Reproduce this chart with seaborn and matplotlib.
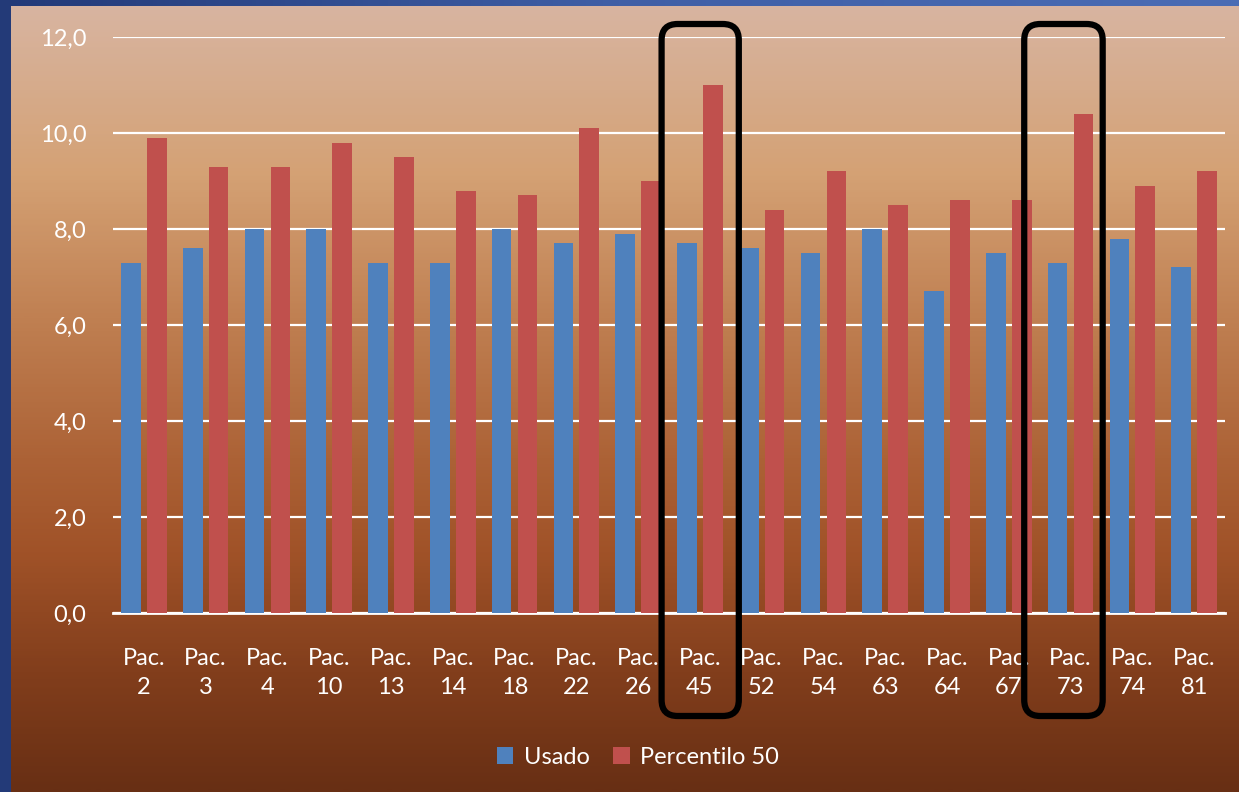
import numpy as np
import pandas as pd
import matplotlib
matplotlib.use("Agg")
import matplotlib.pyplot as plt
from matplotlib.colors import LinearSegmentedColormap
from matplotlib.patches import FancyBboxPatch, Rectangle
import seaborn as sns

# Data
pacientes = ["2", "3", "4", "10", "13", "14", "18", "22", "26", "45",
             "52", "54", "63", "64", "67", "73", "74", "81"]
usado = [7.3, 7.6, 8.0, 8.0, 7.3, 7.3, 8.0, 7.7, 7.9, 7.7,
         7.6, 7.5, 8.0, 6.7, 7.5, 7.3, 7.8, 7.2]
percentilo_50 = [9.9, 9.3, 9.3, 9.8, 9.5, 8.8, 8.7, 10.1, 9.0, 11.0,
                 8.4, 9.2, 8.5, 8.6, 8.6, 10.4, 8.9, 9.2]
series_names = ["Usado", "Percentilo 50"]
resaltados = ["45", "73"]
y_ticks = [0, 2, 4, 6, 8, 10, 12]

labels = ["Pac.\n" + p for p in pacientes]
df = pd.DataFrame({
    "Paciente": labels * 2,
    "Valor": usado + percentilo_50,
    "Serie": [series_names[0]] * len(labels) + [series_names[1]] * len(labels),
})

sns.set_theme(style="white")
plt.rcParams["font.family"] = ["Lato", "DejaVu Sans"]

W, H = 1239, 792
fig = plt.figure(figsize=(W / 100, H / 100), dpi=100)

# background gradient + blue frame
bg = fig.add_axes([0, 0, 1, 1], zorder=-10)
cmap = LinearSegmentedColormap.from_list("fondo", [
    (0.0, (216 / 255, 181 / 255, 162 / 255)),
    (0.22, (212 / 255, 161 / 255, 116 / 255)),
    (0.40, (192 / 255, 128 / 255, 82 / 255)),
    (0.58, (172 / 255, 98 / 255, 54 / 255)),
    (0.70, (160 / 255, 82 / 255, 40 / 255)),
    (0.85, (130 / 255, 62 / 255, 28 / 255)),
    (1.0, (104 / 255, 47 / 255, 20 / 255)),
])
grad = np.linspace(0, 1, 400).reshape(-1, 1)
bg.imshow(grad, aspect="auto", cmap=cmap, extent=[0, 1, 0, 1], origin="upper")
bg.add_patch(Rectangle((0, 0), 11 / W, 1, color="#233a78", lw=0))
top = np.linspace(0, 1, 300).reshape(1, -1)
cmap_b = LinearSegmentedColormap.from_list("marco", ["#223a78", "#3f5fa6", "#4a6db5"])
bg.imshow(top, aspect="auto", cmap=cmap_b, extent=[0, 1, 1 - 6 / H, 1], origin="upper")
bg.set_xlim(0, 1)
bg.set_ylim(0, 1)
bg.axis("off")

ax = fig.add_axes([113 / W, 1 - 613 / H, (1225 - 113) / W, (613 - 37) / H])
ax.patch.set_alpha(0)
sns.barplot(data=df, x="Paciente", y="Valor", hue="Serie", ax=ax,
            palette=["#4F81BD", "#C0504D"], width=0.84, gap=0.24,
            saturation=1, legend=True, zorder=3, linewidth=0, edgecolor="none")

ax.set_ylim(0, 12)
ax.set_xlim(-0.5, len(labels) - 0.5)
ax.set_yticks(y_ticks)
ax.set_yticklabels([f"{v:.1f}".replace(".", ",") for v in y_ticks])
ax.grid(axis="y", color="white", lw=1.6, zorder=0)
ax.grid(axis="x", visible=False)
for s in ["left", "right", "top"]:
    ax.spines[s].set_visible(False)
ax.spines["bottom"].set_color("white")
ax.spines["bottom"].set_linewidth(2)
ax.set_xlabel("")
ax.set_ylabel("")
ax.tick_params(axis="y", length=0, pad=19, labelsize=17, labelcolor="white")
ax.tick_params(axis="x", length=0, pad=25, labelsize=17, labelcolor="white")
for t in ax.get_xticklabels():
    t.set_linespacing(1.5)

leg = ax.legend(loc="center", bbox_to_anchor=(638 / W, 1 - (757 / H)), bbox_transform=fig.transFigure,
                ncol=2, frameon=False, fontsize=17, labelcolor="white",
                handlelength=0.7, handleheight=0.7, handletextpad=0.45, columnspacing=1.0)

# rounded highlight boxes (left/right offsets in category units)
box_offsets = {"45": (-0.62, 0.63), "73": (-0.75, 0.52)}
inv = fig.transFigure.inverted()
for p in resaltados:
    idx = pacientes.index(p)
    dl, dr = box_offsets[p]
    x0 = inv.transform(ax.transData.transform((idx + dl, 0)))[0]
    x1 = inv.transform(ax.transData.transform((idx + dr, 0)))[0]
    y0, y1 = 1 - 716 / H, 1 - 24 / H
    box = FancyBboxPatch((x0, y0), x1 - x0, y1 - y0,
                         boxstyle="round,pad=0,rounding_size=0.013",
                         mutation_aspect=W / H, transform=fig.transFigure,
                         fill=False, ec="black", lw=4.5, zorder=20)
    fig.patches.append(box)

fig.savefig("out.png", dpi=100)
